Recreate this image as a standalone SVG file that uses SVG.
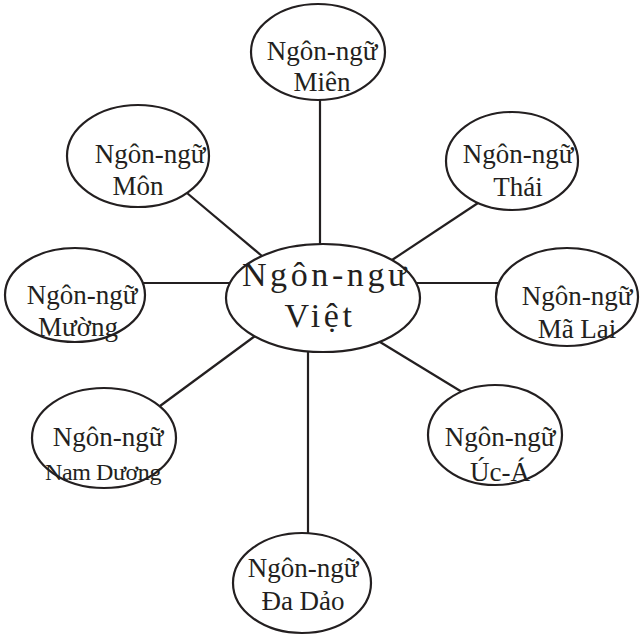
<svg xmlns="http://www.w3.org/2000/svg" width="644" height="638" viewBox="0 0 644 638">
  <style>
    .node ellipse { fill: #ffffff; stroke: #231f20; stroke-width: 2.2; }
    .edge { stroke: #231f20; stroke-width: 2.2; fill: none; }
    text { font-family: "Liberation Serif", "Times New Roman", serif; fill: #231f20; text-anchor: middle; }
    .lbl { font-size: 27px; }
    .small { font-size: 24px; letter-spacing: -0.4px; }
    .hub { font-size: 34px; letter-spacing: 3.6px; }
  </style>
  <rect width="644" height="638" fill="#ffffff"/>

  <!-- spokes from the central language to its relatives -->
  <g id="connectors">
    <line class="edge" x1="320" y1="100" x2="320" y2="244"/>
    <line class="edge" x1="187" y1="193" x2="262" y2="256"/>
    <line class="edge" x1="478" y1="203" x2="392" y2="260"/>
    <line class="edge" x1="143" y1="283" x2="230" y2="283"/>
    <line class="edge" x1="416" y1="283" x2="499" y2="283"/>
    <line class="edge" x1="160" y1="406" x2="255" y2="336"/>
    <line class="edge" x1="380" y1="342" x2="462" y2="392"/>
    <line class="edge" x1="308" y1="351" x2="308" y2="533"/>
  </g>

  <g id="viet" class="node">
    <ellipse cx="323" cy="298" rx="97" ry="54"/>
    <text class="hub" x="326" y="286">Ngôn-ngư</text>
    <text class="hub" x="320" y="327">Việt</text>
  </g>

  <g id="mien" class="node">
    <ellipse cx="318" cy="52" rx="67" ry="48"/>
    <text class="lbl" x="322" y="60">Ngôn-ngữ</text>
    <text class="lbl" x="322" y="91">Miên</text>
  </g>

  <g id="mon" class="node">
    <ellipse cx="138" cy="156" rx="71" ry="51"/>
    <text class="lbl" x="150" y="163">Ngôn-ngữ</text>
    <text class="lbl" x="138" y="195">Môn</text>
  </g>

  <g id="thai" class="node">
    <ellipse cx="512" cy="161" rx="66" ry="49"/>
    <text class="lbl" x="518" y="163">Ngôn-ngữ</text>
    <text class="lbl" x="518" y="196">Thái</text>
  </g>

  <g id="muong" class="node">
    <ellipse cx="75" cy="295" rx="70" ry="47"/>
    <text class="lbl" x="82" y="304">Ngôn-ngữ</text>
    <text class="lbl" x="78" y="336">Mường</text>
  </g>

  <g id="malai" class="node">
    <ellipse cx="567" cy="297" rx="71" ry="49"/>
    <text class="lbl" x="577" y="305">Ngôn-ngữ</text>
    <text class="lbl" x="577" y="338">Mã Lai</text>
  </g>

  <g id="namduong" class="node">
    <ellipse cx="104" cy="438" rx="72" ry="50"/>
    <text class="lbl" x="108" y="446">Ngôn-ngữ</text>
    <text class="small" x="103" y="480">Nam Dương</text>
  </g>

  <g id="uca" class="node">
    <ellipse cx="495" cy="435" rx="67" ry="50"/>
    <text class="lbl" x="500" y="446">Ngôn-ngữ</text>
    <text class="lbl" x="500" y="481">Úc-Á</text>
  </g>

  <g id="dadao" class="node">
    <ellipse cx="302" cy="583" rx="69" ry="50"/>
    <text class="lbl" x="303" y="577">Ngôn-ngữ</text>
    <text class="lbl" x="303" y="610">Đa Dảo</text>
  </g>
</svg>
